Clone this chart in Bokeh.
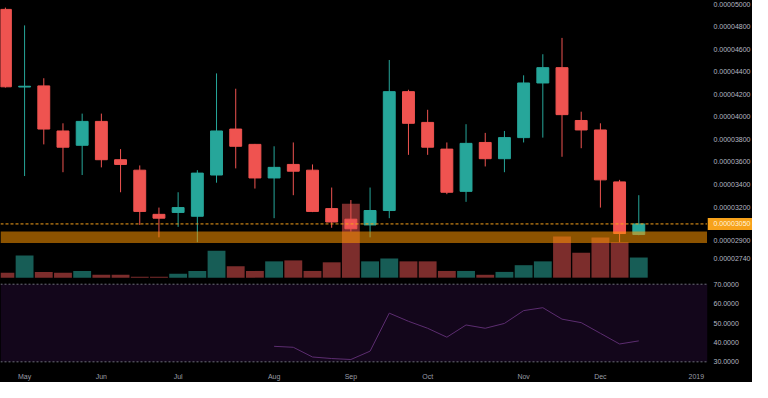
from bokeh.plotting import figure
from bokeh.layouts import column, row
from bokeh.models import (Range1d, FixedTicker, PrintfTickFormatter, BoxAnnotation, Span)
from bokeh.core.properties import value
from bokeh.embed import file_html
from bokeh.resources import INLINE

# ---------------- data (prices in satoshi, 1e-8) ----------------
opens = [4954, 4265, 4275, 3875, 3748, 3960, 3620, 3527, 3135, 3152,
         3118, 3484, 3892, 3756, 3458, 3578, 3527, 3186, 3092, 3041,
         3169, 4224, 3951, 3714, 3339, 3773, 3629, 3816, 4301, 4437,
         3968, 3884, 3423, 2956]
highs = [4970, 4812, 4343, 3943, 4029, 4029, 3714, 3569, 3195, 3331,
         3527, 4386, 4250, 3760, 3739, 3773, 3578, 3373, 3262, 3373,
         4505, 4241, 4063, 3773, 3935, 3858, 3875, 4369, 4556, 4701,
         4046, 3943, 3441, 3305]
lows = [4260, 3475, 3756, 3509, 3484, 3552, 3331, 3041, 2931, 3024,
        2888, 3416, 3543, 3364, 3101, 3305, 3155, 3016, 2982, 2931,
        3101, 3663, 3663, 3314, 3246, 3560, 3509, 3773, 3816, 3646,
        3722, 3195, 2888, 2950]
closes = [4267, 4272, 3892, 3731, 3960, 3620, 3578, 3161, 3101, 3195,
          3501, 3875, 3739, 3458, 3552, 3518, 3161, 3067, 3007, 3169,
          4224, 3943, 3731, 3331, 3765, 3629, 3816, 4301, 4437, 4020,
          3884, 3441, 2965, 3050]
volumes = [5, 23, 6, 5, 7, 3, 3, 1, 1, 4,
           7, 28, 12, 7, 17, 18, 7, 16, 77, 17,
           20, 17, 17, 7, 7, 3, 6, 13, 17, 43,
           26, 42, 37, 21]
rsi_start = 14
rsi_values = [38.0, 37.5, 32.5, 31.7, 31.2, 35.5, 55.1, 50.9, 47.3, 42.7,
              49.0, 47.3, 49.8, 56.4, 57.9, 52.0, 50.2, 44.7, 39.2, 40.8]

last_price = 3050
zone_low, zone_high = 2880, 2982
price_ticks = [5000, 4800, 4600, 4400, 4200, 4000, 3800, 3600, 3400, 3200, 2900, 2740]
rsi_ticks = [30, 40, 50, 60, 70]
month_ticks = [1, 5, 9, 14, 18, 22, 27, 31, 36]
month_labels = ["May", "Jun", "Jul", "Aug", "Sep", "Oct", "Nov", "Dec", "2019"]

SAT = 1e-8

# ---------------- layout constants ----------------
W = 752
RB = 45
FW = W - RB
H1 = 281
H2 = 101
FONT = "Liberation Sans"
FS = "7px"
UP = "#26a69a"
DN = "#ef5350"
UPV = "#175d56"
DNV = "#7c2d2c"
LBL = "#b4b7c0"
ORANGE = "#f7a21b"
BLACK_BG = {"background-color": "#000000"}

n = len(opens)
idx = list(range(n))
is_up = [c >= o for o, c in zip(opens, closes)]
colors = [UP if u else DN for u in is_up]
vcolors = [UPV if u else DNV for u in is_up]
tops = [max(o, c) * SAT for o, c in zip(opens, closes)]
bots = [min(o, c) * SAT for o, c in zip(opens, closes)]
hi = [h * SAT for h in highs]
lo = [l * SAT for l in lows]

xr = Range1d(-0.255, 36.58)
yr = Range1d(2539 * SAT, 5033 * SAT)

common = dict(output_backend="svg", toolbar_location=None, tools="", min_border_left=0,
              min_border_top=0, min_border_bottom=0, background_fill_color="black",
              border_fill_color=None, outline_line_color=None, styles=BLACK_BG)


def strip(p):
    p.grid.visible = False
    p.outline_line_alpha = 0


# ---------------- price pane ----------------
p1 = figure(width=FW, height=H1, x_range=xr, y_range=yr, x_axis_location=None,
            y_axis_location=None, min_border_right=0, **common)
strip(p1)
p1.extra_y_ranges = {"vol": Range1d(-4, 289)}

p1.vbar(x=idx, top=volumes, bottom=0, width=0.93, fill_color=vcolors,
        line_color=None, y_range_name="vol")
p1.segment(x0=idx, x1=idx, y0=lo, y1=hi, line_color=colors, line_width=1)
p1.vbar(x=idx, top=tops, bottom=bots, width=0.62, fill_color=colors,
        line_color=colors, line_width=1)

p1.add_layout(BoxAnnotation(bottom=zone_low * SAT, top=zone_high * SAT,
                            fill_color="#ff9800", fill_alpha=0.55, line_alpha=0))
p1.add_layout(Span(location=last_price * SAT, dimension="width",
                   line_color=ORANGE, line_dash="3 2", line_width=1))

# price scale strip (shares the price y-range)
pax = figure(width=RB, height=H1, x_range=Range1d(0, RB), y_range=yr,
             x_axis_location=None, y_axis_location=None, min_border_right=0, **common)
strip(pax)
pax.text(x=6, y=[t * SAT for t in price_ticks],
         text=["%.8f" % (t * SAT) for t in price_ticks],
         text_font=value(FONT), text_font_size=FS, text_color=LBL,
         text_baseline="middle", text_align="left")
pax.rect(x=RB / 2, y=[last_price * SAT], width=RB, height=12, height_units="screen",
         fill_color=ORANGE, line_color=None)
pax.text(x=6, y=[last_price * SAT], text=["%.8f" % (last_price * SAT)],
         text_font=value(FONT), text_font_size=FS, text_color="#fff4dc",
         text_baseline="middle", text_align="left")

# ---------------- RSI pane ----------------
p2 = figure(width=W, height=H2, x_range=xr, y_range=Range1d(27.6, 71.4),
            y_axis_location="right", min_border_right=RB, **common)
strip(p2)
p2.add_layout(BoxAnnotation(bottom=30, top=70, fill_color="#13061b",
                            fill_alpha=1, line_alpha=0, level="underlay"))
for lvl in (30, 70):
    p2.add_layout(Span(location=lvl, dimension="width", line_color="#6c6f7a",
                       line_dash="2 2", line_width=1))
rsi_x = list(range(rsi_start, rsi_start + len(rsi_values)))
p2.line(rsi_x, rsi_values, line_color="#5c2d70", line_width=1)

ya2 = p2.yaxis[0]
ya2.ticker = FixedTicker(ticks=rsi_ticks)
ya2.formatter = PrintfTickFormatter(format="%.4f")
ya2.axis_line_color = None
ya2.major_tick_line_color = None
ya2.minor_tick_line_color = None
ya2.major_tick_out = 0
ya2.major_tick_in = 0
ya2.major_label_text_font = FONT
ya2.major_label_text_font_size = FS
ya2.major_label_text_color = LBL
ya2.major_label_standoff = 6

xa = p2.xaxis[0]
xa.ticker = FixedTicker(ticks=month_ticks)
xa.major_label_overrides = {t: lab for t, lab in zip(month_ticks, month_labels)}
xa.axis_line_color = None
xa.major_tick_line_color = None
xa.minor_tick_line_color = None
xa.major_tick_out = 0
xa.major_tick_in = 0
xa.major_label_text_font = FONT
xa.major_label_text_font_size = FS
xa.major_label_text_color = "#9a9da6"
xa.major_label_standoff = 6

layout = column(row(p1, pax, spacing=0, styles=BLACK_BG), p2, spacing=0, styles=BLACK_BG)
open("out.html", "w").write(file_html(layout, INLINE))
